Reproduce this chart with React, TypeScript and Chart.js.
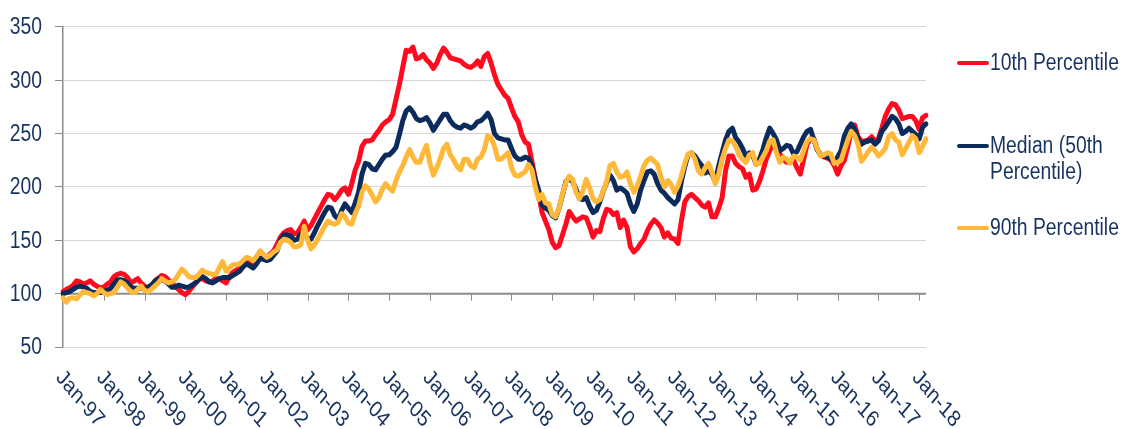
import React, { useEffect, useRef } from 'react';
import { Chart, registerables } from 'chart.js';

Chart.register(...registerables);

// ---------- DATA ----------
const START_YEAR = 1997;
const MONTH_COUNT = 255; // Jan-97 .. Mar-18
const MONTH_NAMES = ['Jan', 'Feb', 'Mar', 'Apr', 'May', 'Jun', 'Jul', 'Aug', 'Sep', 'Oct', 'Nov', 'Dec'];
const categories: string[] = Array.from({ length: MONTH_COUNT }, (_, i) =>
  `${MONTH_NAMES[i % 12]}-${String((START_YEAR + Math.floor(i / 12)) % 100).padStart(2, '0')}`
);

const xTickLabels = [
  'Jan-97', 'Jan-98', 'Jan-99', 'Jan-00', 'Jan-01', 'Jan-02', 'Jan-03', 'Jan-04', 'Jan-05', 'Jan-06', 'Jan-07',
  'Jan-08', 'Jan-09', 'Jan-10', 'Jan-11', 'Jan-12', 'Jan-13', 'Jan-14', 'Jan-15', 'Jan-16', 'Jan-17', 'Jan-18',
];

const seriesNames = ['10th Percentile', 'Median (50th Percentile)', '90th Percentile'];

const p10 = [
  102, 104, 105.5, 108, 112, 111, 109, 110, 112, 109, 107, 105.5,
  106, 109, 111, 116, 118, 119, 118, 115, 110, 112, 114, 110,
  107, 104, 106, 112, 114, 117, 116, 113, 110, 107, 104, 101,
  99, 102, 106, 110, 114, 114, 112, 111, 112, 114, 114, 112,
  110, 116, 120, 122, 124, 128, 132, 130, 128, 130, 133, 134,
  134, 137, 140, 146, 153, 157, 159, 160, 156, 157, 162, 168,
  160, 164, 170, 176, 182, 188, 193, 192, 188, 192, 197, 199,
  193, 203, 216, 224, 238, 243, 243, 244, 249, 253, 258, 261,
  263, 268, 282, 296, 312, 328, 327, 331, 320, 321, 324, 319,
  316, 311, 316, 324, 330, 326, 321, 320, 319, 318, 315, 313,
  312, 314, 318, 313, 322, 325, 316, 305, 296, 291, 286, 283,
  274, 266, 261, 249, 242, 240, 224, 208, 193, 176, 168, 160,
  148, 143, 145, 155, 165, 177, 172, 168, 170, 172, 171, 163,
  153, 159, 158, 170, 179, 178, 174, 176, 162, 169, 162, 144,
  139, 142, 147, 151, 159, 165, 169, 166, 162, 153, 157, 152,
  151, 147, 168, 186, 191, 193, 190, 187, 183, 181, 185, 172,
  172, 180, 190, 215, 229, 229, 222, 219, 217, 209, 212, 197,
  198, 205, 215, 226, 234, 240, 236, 231, 226, 223, 224, 225,
  218, 212, 226, 240, 245, 245, 235, 230, 228, 227, 225, 220,
  212, 220, 225, 238, 252, 258, 247, 243, 243, 244, 247, 243,
  245, 255, 266, 273, 278, 277, 272, 264, 265, 266, 266, 262,
  254, 265, 267,
];

const p50 = [
  100, 101, 102, 104, 106, 107, 106, 105, 102, 101, 101, 101,
  102, 103, 105, 109, 113, 113, 112, 110, 106, 105, 105, 105,
  105, 106, 108, 111, 114, 113, 112, 109, 106, 106, 108, 107,
  106, 106, 108, 110, 113, 116, 114, 111, 110, 112, 114, 115,
  115, 115, 117, 119, 121, 125, 128, 126, 124, 128, 133, 132,
  131, 132, 136, 140, 150, 155, 155, 154, 150, 151, 156, 156,
  152, 151, 157, 164, 170, 176, 181, 180, 173, 170, 178, 184,
  180, 176, 185, 195, 212, 222, 221, 217, 216, 221, 226, 230,
  230, 233, 237, 249, 262, 271, 274, 270, 264, 262, 263, 265,
  260, 253, 258, 263, 268, 268, 262, 258, 256, 255, 258, 257,
  255, 257, 261, 262, 265, 269, 263, 250, 246, 245, 244, 244,
  236, 229, 226, 226, 228, 227, 220, 207, 197, 183, 180, 178,
  173, 171, 180, 192, 205, 208, 205, 198, 189, 188, 190, 182,
  176, 178, 186, 196, 204, 211, 206, 197, 199, 197, 194, 184,
  177, 184, 197, 206, 214, 215, 212, 203, 197, 194, 190, 187,
  184, 188, 205, 219, 230, 232, 229, 224, 220, 213, 215, 212,
  205, 220, 232, 244, 252, 255, 246, 242, 236, 229, 232, 230,
  221, 226, 235, 246, 255, 250, 244, 234, 236, 239, 238, 231,
  233, 240, 247, 252, 254, 244, 235, 230, 229, 228, 226, 223,
  228, 234, 248, 255, 259, 254, 245, 240, 242, 243, 244, 240,
  243, 252, 256, 261, 266, 264, 259, 250, 252, 255, 252, 249,
  245, 256, 259,
];

const p90 = [
  96, 92, 96, 96, 95, 99, 102, 101, 100, 98, 100, 104,
  101, 99, 100, 101, 106, 111, 109, 105, 102, 101, 104, 107,
  103, 102, 104, 107, 110, 114, 112, 110, 111, 113, 118, 123,
  120, 116, 115, 115, 118, 122, 120, 119, 118, 118, 124, 130,
  121, 124, 127, 127, 128, 131, 134, 133, 131, 135, 140, 137,
  134, 136, 139, 141, 148, 151, 150, 148, 144, 144, 146, 163,
  150, 142, 146, 151, 157, 163, 168, 166, 165, 167, 175, 172,
  166, 165, 175, 182, 195, 201, 198, 192, 186, 190, 198, 203,
  199, 196, 206, 214, 220, 228, 235, 228, 223, 223, 232, 239,
  222, 211, 218, 226, 236, 240, 230, 225, 219, 216, 226, 226,
  220, 218, 226, 228, 235, 248, 246, 238, 226, 226, 229, 232,
  218, 211, 210, 212, 214, 221, 216, 200, 188, 193, 185, 184,
  174, 172, 180, 193, 204, 210, 207, 195, 189, 196, 207, 199,
  189, 186, 188, 196, 205, 220, 222, 214, 209, 210, 214, 203,
  195, 201, 210, 220, 225, 227, 224, 221, 209, 200, 206, 202,
  195, 201, 210, 222, 231, 232, 226, 215, 212, 218, 222, 214,
  203, 212, 226, 236, 244, 243, 238, 230, 226, 223, 230, 232,
  221, 222, 228, 234, 243, 244, 232, 223, 228, 226, 222, 229,
  228, 225, 234, 243, 245, 244, 236, 229, 230, 232, 231, 222,
  223, 225, 235, 244, 252, 248, 240, 224, 228, 233, 237, 234,
  229, 232, 236, 247, 250, 244, 242, 230, 236, 242, 248, 245,
  232, 238, 245,
];

const yMin = 50;
const yMax = 350;
const yStep = 50;
const axisCrossValue = 100;

// ---------- STYLE ----------
const RED = '#FF0A1E';
const NAVY = '#0B2B5C';
const GOLD = '#FFB838';
const TEXT = '#17335F';
const AXIS = '#8C8C8C';
const GRID = '#D6D6D6';
const FONT = "'Liberation Sans', Arial, sans-serif";
const SQUEEZE = 0.84; // narrow (condensed) look of the text

const legendLines = [['10th Percentile'], ['Median (50th', 'Percentile)'], ['90th Percentile']];
const legendColors = [RED, NAVY, GOLD];

const textPlugin = {
  id: 'customAxesText',
  beforeDatasetsDraw(chart: any) {
    const { ctx, chartArea, scales } = chart;
    const x = scales.x;
    const y = scales.y;
    const y0 = y.getPixelForValue(axisCrossValue);
    ctx.save();
    ctx.strokeStyle = AXIS;
    ctx.lineWidth = 2;
    ctx.beginPath();
    ctx.moveTo(chartArea.left, y0);
    ctx.lineTo(chartArea.right, y0);
    ctx.stroke();
    ctx.lineWidth = 1;
    ctx.beginPath();
    xTickLabels.forEach((lab) => {
      const idx = categories.indexOf(lab);
      const px = Math.round(x.getPixelForValue(idx)) + 0.5;
      ctx.moveTo(px, y0);
      ctx.lineTo(px, y0 + 7);
    });
    ctx.stroke();
    ctx.restore();
  },
  afterDraw(chart: any) {
    const { ctx, chartArea, scales } = chart;
    const x = scales.x;
    const y = scales.y;
    ctx.save();
    ctx.fillStyle = TEXT;
    ctx.font = `23px ${FONT}`;

    // y tick labels (values from the scale)
    ctx.textAlign = 'right';
    ctx.textBaseline = 'middle';
    y.ticks.forEach((t: any) => {
      const py = y.getPixelForValue(t.value);
      ctx.save();
      ctx.translate(chartArea.left - 21, py + 1);
      ctx.scale(SQUEEZE, 1);
      ctx.fillText(String(t.value), 0, 0);
      ctx.restore();
    });

    // x tick labels, rotated
    ctx.textAlign = 'left';
    xTickLabels.forEach((lab) => {
      const idx = categories.indexOf(lab);
      const px = x.getPixelForValue(idx);
      ctx.save();
      ctx.translate(px - 4, chartArea.bottom + 27);
      ctx.scale(SQUEEZE, 1);
      ctx.rotate(Math.PI / 4);
      ctx.fillText(lab, 0, 0);
      ctx.restore();
    });

    // legend
    const legendX = chartArea.right + 33;
    const legendY = [63, 146, 228];
    legendLines.forEach((lines, k) => {
      const cy = legendY[k];
      ctx.strokeStyle = legendColors[k];
      ctx.lineWidth = 4;
      ctx.lineCap = 'round';
      ctx.beginPath();
      ctx.moveTo(legendX, cy);
      ctx.lineTo(legendX + 28, cy);
      ctx.stroke();
      lines.forEach((t, j) => {
        ctx.save();
        ctx.translate(legendX + 31, cy + j * 26 + 1);
        ctx.scale(SQUEEZE, 1);
        ctx.fillText(t, 0, 0);
        ctx.restore();
      });
    });
    ctx.restore();
  },
};

export default function App() {
  const canvasRef = useRef<HTMLCanvasElement | null>(null);

  useEffect(() => {
    if (!canvasRef.current) return;
    const mk = (label: string, data: number[], color: string, order: number) => ({
      label,
      data,
      borderColor: color,
      backgroundColor: color,
      borderWidth: 5,
      pointRadius: 0,
      tension: 0,
      borderJoinStyle: 'round' as const,
      borderCapStyle: 'round' as const,
      order,
    });
    const chart = new Chart(canvasRef.current, {
      type: 'line',
      data: {
        labels: categories,
        datasets: [
          mk(seriesNames[0], p10, RED, 3),
          mk(seriesNames[1], p50, NAVY, 2),
          mk(seriesNames[2], p90, GOLD, 1),
        ],
      },
      options: {
        animation: false,
        responsive: true,
        maintainAspectRatio: false,
        layout: { padding: { left: 0, top: 19, right: 201, bottom: 82 } },
        plugins: { legend: { display: false }, tooltip: { enabled: false } },
        scales: {
          x: { type: 'category', display: false, offset: false },
          y: {
            min: yMin,
            max: yMax,
            ticks: { stepSize: yStep, color: 'rgba(0,0,0,0)', font: { family: FONT, size: 23 }, padding: 13 },
            grid: { color: GRID, lineWidth: 1, tickColor: AXIS, tickLength: 8, drawTicks: true },
            border: { color: AXIS, width: 1.5 },
            afterFit: (s: any) => {
              s.width = 63;
            },
          },
        },
      },
      plugins: [textPlugin],
    });
    return () => chart.destroy();
  }, []);

  return (
    <div style={{ position: 'absolute', left: 0, top: 0, width: 1127, height: 429, background: '#fff' }}>
      <canvas ref={canvasRef} />
    </div>
  );
}
